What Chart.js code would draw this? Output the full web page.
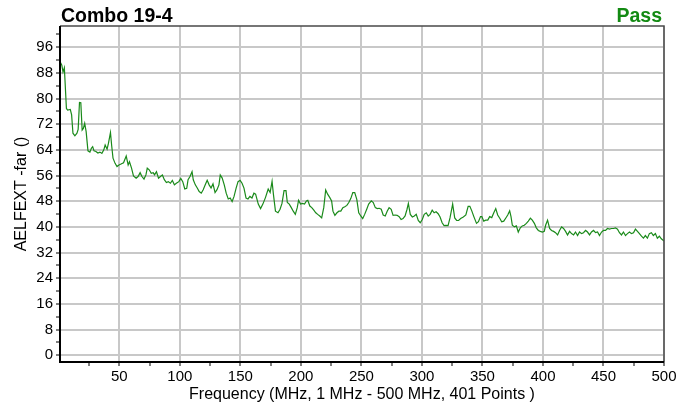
<!DOCTYPE html>
<html>
<head>
<meta charset="utf-8">
<script src="https://cdn.jsdelivr.net/npm/chart.js@4.4.1/dist/chart.umd.min.js"></script>
<style>
  html, body { margin: 0; padding: 0; background: #fff; }
  #wrap { width: 693px; height: 410px; }
</style>
</head>
<body>
<div id="wrap"><canvas id="c" width="693" height="410"></canvas></div>
<script>
// Combo 19-4 : AELFEXT far-end vs frequency
const titleLeft = 'Combo 19-4';
const titleRight = 'Pass';

const freqMHz = [
  1, 2.5, 3.5, 4.6, 6.3, 7.3, 9.5, 10.6, 11.7, 13.3,
  15, 16, 17.1, 18.2, 19.3, 20.3, 21.4, 22.6, 24.1, 25.7,
  26.9, 28, 29.1, 30.7, 32.3, 34, 35.6, 37.2, 38.3, 39.9,
  41, 42.7, 43.7, 44.8, 46.5, 48.1, 49.7, 51.4, 53.5, 55.7,
  57.3, 58.4, 60.1, 61.7, 63.9, 65.5, 67.2, 68.7, 70.4, 72,
  73.1, 74.7, 76.4, 78, 79.1, 80.7, 82.4, 84, 85.6, 87.2,
  88.9, 90.5, 92.2, 93.8, 95.5, 97.1, 99.2, 100.8, 102.4, 104.1,
  105.7, 106.8, 108.4, 110.1, 111.1, 112.8, 114.4, 116, 117.7, 119.3,
  121, 122.6, 124.2, 125.8, 127.4, 129.1, 130.7, 132.3, 133.4, 135,
  136.7, 138.3, 140, 141.6, 143.2, 144.8, 146.5, 148.1, 149.8, 151.4,
  153, 154.7, 156.3, 157.9, 159.6, 161.2, 162.6, 164.8, 166.7, 168.6,
  170.8, 173, 174.6, 176.2, 177.3, 179, 181.1, 182.8, 184.4, 186.1,
  187.7, 188.8, 190.4, 192.1, 193.7, 195.4, 197, 198.1, 199.7, 201.4,
  203, 204.6, 205.7, 207.4, 209, 210.7, 212.3, 213.9, 215.6, 217.2,
  218.9, 220.5, 222.1, 223.8, 225.4, 226.5, 228.1, 229.8, 231.4, 233,
  234.7, 236.3, 238, 239.6, 241.3, 242.9, 244.5, 246.2, 247.8, 249.5,
  251.1, 252.7, 254.4, 256, 258.2, 259.8, 261.5, 263.1, 264.7, 266.4,
  268, 269.7, 271.3, 272.9, 274.6, 276.2, 277.9, 279.5, 281.2, 282.8,
  284.4, 286.1, 287.7, 288.8, 290.4, 292.1, 293.7, 295.3, 297, 298.6,
  300.3, 301.9, 303.6, 305.2, 306.8, 308.5, 310.1, 311.7, 313.4, 315,
  316.7, 318.3, 319.9, 321.6, 323.2, 325.4, 327.1, 328.7, 330.3, 332,
  334.2, 336.3, 338.2, 339.6, 341.2, 342.9, 345.1, 346.7, 348.4, 349.5,
  351.1, 352.7, 354.4, 356, 357.7, 359.3, 361, 362.6, 364.3, 365.9,
  367.6, 369.2, 370.9, 372.5, 373.6, 374.7, 376.4, 378, 379.6, 381.3,
  382.9, 384.6, 386.3, 387.9, 389.6, 391.2, 392.9, 394.5, 396.2, 397.8,
  399.5, 401.1, 402.2, 403.8, 405.5, 407.1, 408.8, 410.4, 412.1, 413.7,
  415.4, 417, 418.7, 420.3, 422, 423.6, 425.3, 426.9, 428.6, 430.2,
  431.9, 433.5, 435.2, 436.8, 438.5, 440.1, 441.8, 443.4, 445.1, 446.7,
  448.4, 450, 451.7, 453.3, 455, 456.6, 458.3, 459.9, 461.6, 463.2,
  464.9, 466.5, 468.2, 469.8, 471.5, 473.1, 474.8, 476.4, 478.1, 479.7,
  481.4, 483, 484.6, 486.3, 487.9, 489.6, 491.2, 492.9, 494.5, 496.2,
  497.8, 500
];

const aelfext = [
  91.5, 90.4, 88.3, 89.6, 76.9, 76.4, 76.6, 74.9, 69.2, 68.4,
  69.2, 70.4, 78.8, 78.7, 70.2, 70.7, 72.3, 69.7, 63.7, 63.3,
  64.5, 65.0, 63.7, 63.5, 63.0, 63.3, 62.9, 64.0, 65.5, 64.2,
  66.0, 69.4, 65.3, 61.4, 59.8, 58.8, 59.3, 59.6, 60.0, 62.1,
  59.3, 60.3, 58.3, 55.9, 55.2, 55.7, 56.9, 55.7, 54.9, 56.2,
  58.3, 57.8, 56.7, 56.9, 56.2, 57.2, 55.2, 55.7, 56.2, 54.7,
  53.8, 54.1, 53.6, 54.5, 53.1, 53.6, 54.1, 55.1, 54.1, 51.8,
  52.0, 54.7, 55.7, 57.2, 54.7, 53.1, 52.1, 51.0, 50.5, 51.6,
  53.1, 54.5, 53.1, 52.1, 53.4, 50.7, 51.6, 53.1, 56.2, 55.2,
  53.1, 50.5, 48.7, 49.0, 47.9, 49.5, 52.1, 54.1, 54.5, 53.6,
  52.1, 49.0, 48.7, 49.5, 49.0, 50.5, 50.2, 47.1, 45.7, 47.1,
  49.2, 51.8, 50.7, 54.2, 50.2, 44.9, 44.4, 45.5, 47.3, 51.3,
  51.3, 47.6, 47.1, 46.0, 44.9, 43.9, 46.0, 48.3, 47.1, 47.3,
  47.1, 48.1, 48.3, 46.5, 46.0, 45.2, 44.4, 43.9, 43.4, 42.8,
  46.0, 51.5, 50.2, 49.2, 48.1, 44.9, 43.6, 44.4, 44.9, 44.9,
  46.0, 46.3, 46.7, 47.6, 48.9, 50.7, 50.7, 48.6, 44.4, 43.4,
  42.6, 43.9, 45.5, 47.1, 48.1, 47.6, 46.0, 45.7, 45.8, 45.5,
  43.7, 43.4, 44.9, 46.0, 45.5, 43.6, 43.7, 43.6, 43.2, 42.3,
  42.6, 43.4, 45.5, 47.3, 43.9, 43.1, 43.4, 43.9, 42.0, 41.3,
  42.3, 43.9, 44.4, 43.4, 43.9, 45.2, 44.4, 44.7, 44.1, 43.1,
  41.3, 40.4, 40.5, 40.4, 42.8, 47.1, 42.8, 42.0, 42.0, 42.6,
  43.1, 43.7, 46.4, 46.4, 45.0, 43.2, 41.1, 41.6, 43.2, 43.2,
  41.8, 42.1, 42.1, 43.2, 42.9, 44.3, 45.7, 43.7, 42.7, 41.6,
  41.8, 42.7, 43.7, 45.0, 43.2, 40.5, 40.0, 40.3, 38.4, 39.7,
  40.3, 40.5, 41.1, 41.8, 42.7, 42.1, 41.1, 39.7, 38.9, 38.6,
  38.4, 38.6, 40.5, 42.1, 39.5, 38.9, 38.6, 38.2, 37.5, 38.9,
  40.0, 39.5, 38.6, 37.5, 38.6, 37.9, 37.5, 38.4, 37.3, 38.4,
  37.9, 38.2, 38.9, 38.4, 37.5, 38.4, 38.9, 38.2, 38.4, 37.3,
  38.4, 38.9, 38.9, 39.5, 39.3, 39.5, 39.5, 39.7, 39.3, 38.2,
  37.5, 38.4, 37.3, 37.9, 38.4, 37.9, 38.2, 39.3, 38.6, 37.9,
  37.1, 36.5, 37.3, 36.5, 37.9, 38.2, 37.3, 37.9, 36.5, 37.1,
  36.3, 35.6
];

// ticks: labelled majors + unlabelled minors
const xTicks = [25, 50, 75, 100, 125, 150, 175, 200, 225, 250, 275, 300, 325, 350, 375, 400, 425, 450, 475, 500];
const xMajorStep = 50;
const yTicks = [0, 4, 8, 12, 16, 20, 24, 28, 32, 36, 40, 44, 48, 52, 56, 60, 64, 68, 72, 76, 80, 84, 88, 92, 96, 100];
const yMajorStep = 8;

const GRID = '#c8c8c8';
const FONT = '"Liberation Sans", Arial, Helvetica, sans-serif';

// header texts + plot frame
const framePlugin = {
  id: 'frame',
  afterDraw(chart) {
    const { ctx, chartArea: { left, right, top, bottom } } = chart;
    ctx.save();
    ctx.strokeStyle = '#4a4a4a';
    ctx.lineWidth = 1.5;
    ctx.beginPath();
    ctx.moveTo(left, top);
    ctx.lineTo(right, top);
    ctx.lineTo(right, bottom);
    ctx.stroke();
    ctx.strokeStyle = '#000';
    ctx.lineWidth = 2;
    ctx.beginPath();
    ctx.moveTo(left, top);
    ctx.lineTo(left, bottom);
    ctx.lineTo(right, bottom);
    ctx.stroke();

    ctx.font = 'bold 19.5px ' + FONT;
    ctx.textBaseline = 'alphabetic';
    ctx.textAlign = 'left';
    ctx.fillStyle = '#000';
    ctx.fillText(titleLeft, left + 1, 22);
    ctx.textAlign = 'right';
    ctx.fillStyle = '#138a13';
    ctx.fillText(titleRight, right - 2, 22);
    ctx.restore();
  }
};

Chart.defaults.font.family = FONT;
Chart.defaults.font.size = 15;
Chart.defaults.color = '#000';

new Chart(document.getElementById('c'), {
  type: 'line',
  data: {
    datasets: [{
      data: freqMHz.map((f, i) => ({ x: f, y: aelfext[i] })),
      borderColor: '#1a8a1a',
      borderWidth: 1.2,
      pointRadius: 0,
      tension: 0,
      fill: false
    }]
  },
  options: {
    responsive: false,
    devicePixelRatio: 1,
    animation: false,
    layout: { padding: { top: 26, right: 29, left: 0, bottom: 0 } },
    plugins: { legend: { display: false }, tooltip: { enabled: false } },
    scales: {
      x: {
        type: 'linear',
        min: 1,
        max: 500,
        afterBuildTicks: s => { s.ticks = xTicks.map(v => ({ value: v })); },
        afterFit: s => { s.height = 48; },
        border: { display: false },
        grid: {
          color: c => (c.tick && c.tick.value % xMajorStep === 0) ? GRID : 'rgba(0,0,0,0)',
          lineWidth: 2,
          tickColor: '#000',
          tickLength: 4,
          tickWidth: 1
        },
        ticks: {
          autoSkip: false,
          maxRotation: 0,
          padding: 2,
          color: '#000',
          callback: v => (v % xMajorStep === 0 ? String(v) : '')
        },
        title: {
          display: true,
          text: 'Frequency (MHz, 1 MHz - 500 MHz, 401 Points )',
          color: '#000',
          font: { size: 16 },
          padding: { top: 0, bottom: 6 }
        }
      },
      y: {
        min: -2.1,
        max: 102.6,
        afterBuildTicks: s => { s.ticks = yTicks.map(v => ({ value: v })); },
        afterFit: s => { s.width = 60; },
        border: { display: false },
        grid: {
          color: c => (c.tick && c.tick.value % yMajorStep === 0) ? GRID : 'rgba(0,0,0,0)',
          lineWidth: 2,
          tickColor: '#000',
          tickLength: 4,
          tickWidth: 1
        },
        ticks: {
          autoSkip: false,
          padding: 3,
          color: '#000',
          callback: v => (v % yMajorStep === 0 ? String(v) : '')
        },
        title: {
          display: true,
          text: 'AELFEXT -far ()',
          color: '#000',
          font: { size: 16 },
          padding: { top: 12, bottom: 0 }
        }
      }
    }
  },
  plugins: [framePlugin]
});
</script>
</body>
</html>
